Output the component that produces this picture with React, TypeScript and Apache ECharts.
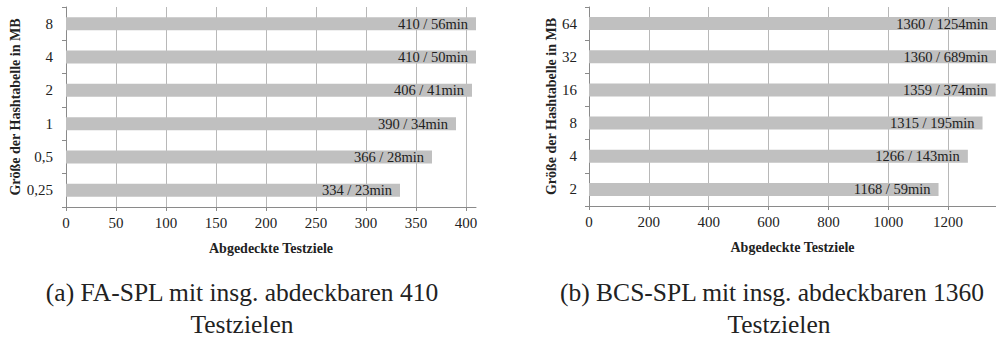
import React, { useEffect, useRef } from "react";
import * as echarts from "echarts";

const catsA = ["0,25", "0,5", "1", "2", "4", "8"];
const valuesA = [334, 366, 390, 406, 410, 410];
const minutesA = [23, 28, 34, 41, 50, 56];

const catsB = ["2", "4", "8", "16", "32", "64"];
const valuesB = [1168, 1266, 1315, 1359, 1360, 1360];
const minutesB = [59, 143, 195, 374, 689, 1254];

const xTitle = "Abgedeckte Testziele";
const yTitle = "Größe der Hashtabelle in MB";
const captionA = ["(a) FA-SPL mit insg. abdeckbaren 410", "Testzielen"];
const captionB = ["(b) BCS-SPL mit insg. abdeckbaren 1360", "Testzielen"];

const FONT = "'Liberation Serif', 'Times New Roman', serif";
const TEXT = "#222";
const AXIS = "#8a8a8a";
const GRID = "#b8b8b8";
const BAR = "#c0c0c0";

function xAxisCfg(gridIndex: number, max: number, interval: number) {
  const n = Math.floor(max / interval) + 1 + (max % interval ? 1 : 0);
  const colors = Array(n - 1).fill(GRID).concat(["rgba(0,0,0,0)"]);
  return {
    type: "value",
    gridIndex,
    min: 0,
    max,
    interval,
    name: xTitle,
    nameLocation: "middle",
    nameGap: 34,
    nameTextStyle: { fontFamily: FONT, fontWeight: "bold", fontSize: 14, color: TEXT },
    axisLine: { show: true, lineStyle: { color: AXIS, width: 1 } },
    axisTick: { show: true, length: 4, lineStyle: { color: AXIS } },
    axisLabel: {
      fontFamily: FONT,
      fontSize: 15,
      color: TEXT,
      margin: 8,
      showMaxLabel: max % interval === 0,
      formatter: (v: number) => String(v),
    },
    splitLine: { show: true, lineStyle: { color: colors, width: 1 } },
  };
}

function yAxisCfg(gridIndex: number, cats: string[], nameGap: number, labelMargin: number) {
  return {
    type: "category",
    gridIndex,
    data: cats,
    name: yTitle,
    nameLocation: "middle",
    nameGap,
    nameTextStyle: { fontFamily: FONT, fontWeight: "bold", fontSize: 14, color: TEXT },
    axisLine: { show: true, lineStyle: { color: AXIS, width: 1 } },
    axisTick: { show: true, length: 4, alignWithLabel: false, lineStyle: { color: AXIS } },
    axisLabel: { fontFamily: FONT, fontSize: 15, color: TEXT, margin: labelMargin },
    splitLine: { show: false },
  };
}

function seriesCfg(idx: number, values: number[], minutes: number[]) {
  return {
    type: "bar",
    xAxisIndex: idx,
    yAxisIndex: idx,
    data: values,
    barWidth: 13,
    itemStyle: { color: BAR },
    label: {
      show: true,
      position: "insideRight",
      distance: 8,
      fontFamily: FONT,
      fontSize: 14.5,
      color: TEXT,
      formatter: (p: any) => `${values[p.dataIndex]} / ${minutes[p.dataIndex]}min`,
    },
  };
}

function caption(lines: string[], cx1: number, cx2: number) {
  return [
    {
      type: "text",
      x: cx1,
      y: 292.5,
      style: {
        text: lines[0],
        fontFamily: FONT,
        fontSize: 25.5,
        fill: TEXT,
        textAlign: "center",
        textVerticalAlign: "middle",
      },
    },
    {
      type: "text",
      x: cx2,
      y: 324.5,
      style: {
        text: lines[1],
        fontFamily: FONT,
        fontSize: 25.5,
        fill: TEXT,
        textAlign: "center",
        textVerticalAlign: "middle",
      },
    },
  ];
}

export default function App() {
  const ref = useRef<HTMLDivElement>(null);
  useEffect(() => {
    if (!ref.current) return;
    const chart = echarts.init(ref.current, null, { renderer: "svg" });
    chart.setOption({
      animation: false,
      backgroundColor: "#ffffff",
      textStyle: { fontFamily: FONT },
      grid: [
        { left: 66, top: 7, width: 410, height: 200, containLabel: false },
        { left: 589, top: 7, width: 416, height: 199, containLabel: false },
      ],
      xAxis: [xAxisCfg(0, 410, 50), xAxisCfg(1, 1360, 200)],
      yAxis: [yAxisCfg(0, catsA, 44, 13), yAxisCfg(1, catsB, 31, 12)],
      series: [seriesCfg(0, valuesA, minutesA), seriesCfg(1, valuesB, minutesB)],
      graphic: [...caption(captionA, 242, 242), ...caption(captionB, 772, 779)],
    });
    return () => chart.dispose();
  }, []);
  return (
    <div
      ref={ref}
      style={{ position: "fixed", left: 0, top: 0, width: 996, height: 338, overflow: "hidden" }}
    />
  );
}
